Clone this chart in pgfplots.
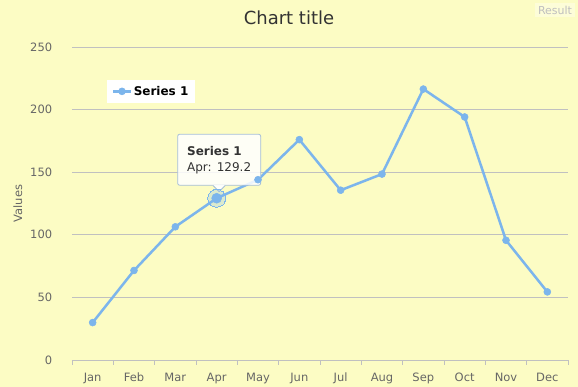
\documentclass[border=0pt]{standalone}
\usepackage{pgfplots}
\pgfplotsset{compat=1.18}
\usepackage{fontspec}
\setmainfont{DejaVu Sans}
\definecolor{bg}{RGB}{252,252,196}
\definecolor{ser}{RGB}{124,181,236}
\definecolor{gridc}{RGB}{192,192,192}
\definecolor{lbl}{RGB}{102,102,102}
\definecolor{ttl}{RGB}{51,51,51}
\definecolor{ttb}{RGB}{165,190,215}
\begin{document}
\begin{tikzpicture}
\path[use as bounding box, fill=bg] (-72pt,-27pt) rectangle (506pt,360pt);
\begin{axis}[
  at={(0,0)}, anchor=south west,
  scale only axis, width=496pt, height=313pt,
  xmin=-0.5, xmax=11.5, ymin=0, ymax=250,
  axis x line*=bottom, axis y line*=left,
  y axis line style={draw=none},
  x axis line style={draw=gridc, line width=0.8pt},
  /pgf/number format/assume math mode=true,
  ytick={0,50,...,250},
  ymajorgrids, major grid style={draw=gridc, line width=0.6pt},
  major y tick style={draw=none},
  xtick={0,...,11},
  xticklabels={Jan,Feb,Mar,Apr,May,Jun,Jul,Aug,Sep,Oct,Nov,Dec},
  major x tick style={draw=none},
  minor xtick={-0.5,0.5,...,11.5},
  minor x tick style={draw=gridc, line width=0.6pt},
  minor tick length=5pt,
  tick align=outside,
  yticklabel style={font=\fontsize{11.5}{13}\selectfont, text=lbl, xshift=-12pt},
  xticklabel style={font=\fontsize{11.5}{13}\selectfont, text=lbl, yshift=-5pt},
  ylabel={Values},
  every axis y label/.style={at={(axis description cs:-0.109,0.5)}, rotate=90, anchor=center, font=\fontsize{11.5}{13}\selectfont, text=lbl},
  legend style={at={(axis description cs:0.0706,0.895)}, anchor=north west, fill=white, draw=none,
    font=\bfseries\fontsize{12}{14}\selectfont, inner xsep=5pt, inner ysep=4pt},
  legend cell align=left,
  clip=false,
]
\addplot[ser, line width=2.5pt, mark=*, mark size=3.5pt, mark options={solid, fill=ser, draw=ser, line width=0.5pt}]
  coordinates {(0,29.9) (1,71.5) (2,106.4) (3,129.2) (4,144.0) (5,176.0) (6,135.6) (7,148.5) (8,216.4) (9,194.1) (10,95.6) (11,54.4)};
\addlegendentry{Series 1}
\addplot[ser, only marks, mark=*, mark size=9pt, mark options={fill=ser, draw=none, line width=0pt, fill opacity=0.25}, forget plot]
  coordinates {(3,129.2)};
\addplot[ser, only marks, mark=*, mark size=5pt, mark options={fill=ser, draw=ser, line width=0.5pt}, forget plot]
  coordinates {(3,129.2)};
\node[draw=ttb, line width=0.8pt,
  fill=white, fill opacity=0.85, text opacity=1, rounded corners=2pt, minimum width=83pt, minimum height=51pt,
  align=left, font=\fontsize{12}{16}\selectfont, text=ttl] (tt)
  at (axis cs:3,129.2) [yshift=38.5pt, xshift=2.5pt] {\textbf{Series 1}\\Apr: 129.2};
\fill[white, fill opacity=0.95] ([xshift=-6pt,yshift=0.6pt]tt.south) -- ([yshift=-6pt]tt.south) -- ([xshift=6pt,yshift=0.6pt]tt.south) -- cycle;
\draw[ttb, line width=0.8pt] ([xshift=-6pt]tt.south) -- ([yshift=-6pt]tt.south) -- ([xshift=6pt]tt.south);
\node[font=\fontsize{18}{20}\selectfont, text=ttl] at (rel axis cs:0.4375,1) [yshift=29pt] {Chart title};
\end{axis}
\node[fill=white, fill opacity=0.35, text opacity=1, text=black!25, font=\fontsize{11}{13}\selectfont, inner sep=3pt] at (483pt,350pt) {Result};
\end{tikzpicture}
\end{document}
